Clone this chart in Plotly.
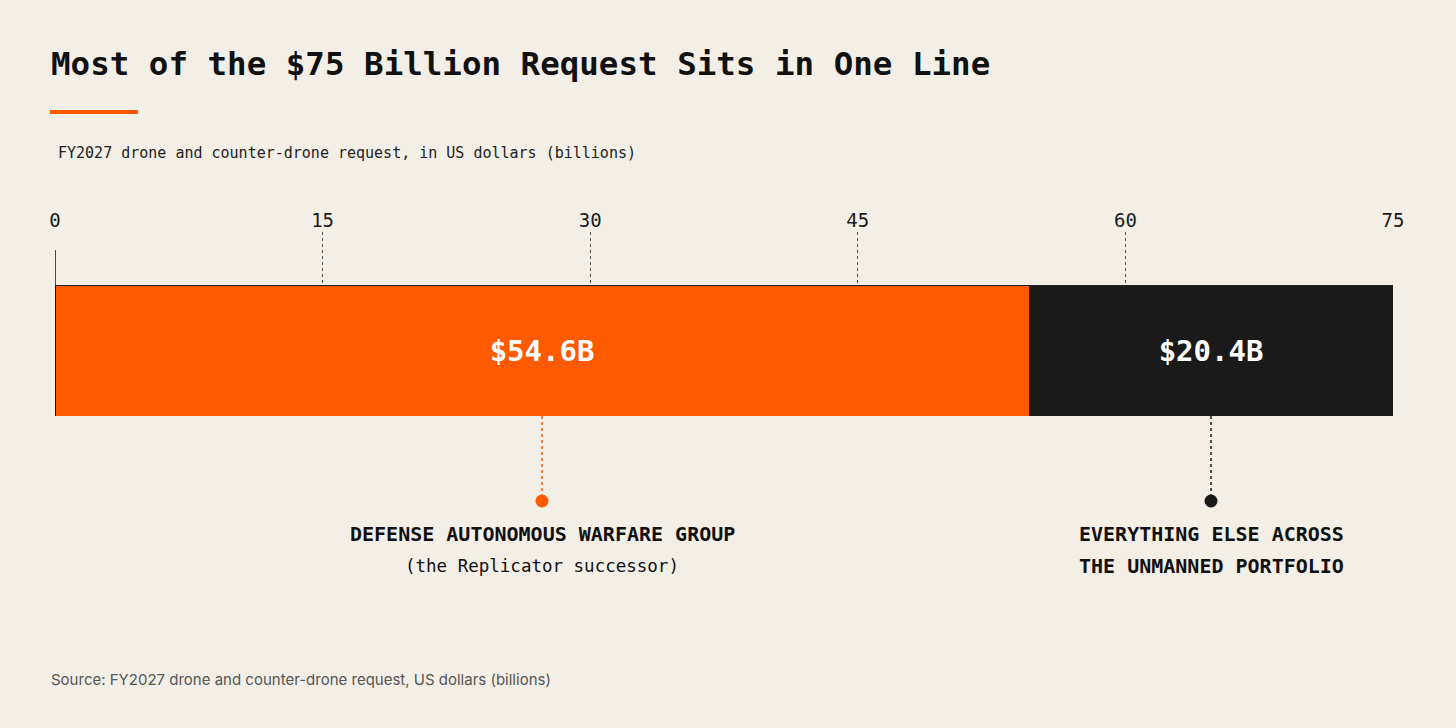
import plotly.graph_objects as go

# data
segments = ["DEFENSE AUTONOMOUS WARFARE GROUP", "EVERYTHING ELSE ACROSS THE UNMANNED PORTFOLIO"]
amounts = [54.6, 20.4]
value_labels = ["$54.6B", "$20.4B"]
label_line1 = ["DEFENSE AUTONOMOUS WARFARE GROUP", "EVERYTHING ELSE ACROSS"]
label_line2 = ["(the Replicator successor)", "THE UNMANNED PORTFOLIO"]
tick_vals = [0, 15, 30, 45, 60, 75]

ORANGE = "#FF5A00"
BLACK = "#1A1A1A"
BG = "#F3EFE7"
MONO = "DejaVu Sans Mono"
colors = [ORANGE, BLACK]

fig = go.Figure()

for name, amt, lab, col in zip(segments, amounts, value_labels, colors):
    fig.add_trace(go.Bar(
        x=[amt], y=[0], orientation="h", width=1, name=name,
        marker=dict(color=col, line=dict(color="#222222", width=1)),
        text=[lab], textposition="inside", insidetextanchor="middle",
        textfont=dict(family=MONO, size=29, color="white"),
        texttemplate="<b>%{text}</b>",
        hoverinfo="skip",
    ))

fig.update_layout(
    width=1456, height=728,
    paper_bgcolor=BG, plot_bgcolor=BG,
    margin=dict(l=55, r=63, t=232, b=312),
    barmode="stack", showlegend=False,
    font=dict(family=MONO, color="#1A1A1A"),
)

fig.update_xaxes(
    range=[0, 75], side="top", tickvals=tick_vals,
    showgrid=True, gridcolor="#555555", griddash="dot", gridwidth=1,
    zeroline=False, showline=False, ticks="",
    tickfont=dict(family=MONO, size=19, color="#1A1A1A"),
)
fig.update_yaxes(range=[-0.5, 0.905], visible=False, fixedrange=True)

# plot area: paper y 0 -> pixel 416, 1 -> pixel 232
def py(px):
    return (416 - px) / 184.0

def pxx(px):
    return (px - 55) / 1338.0

# left axis line at 0
fig.add_shape(type="line", xref="x", yref="paper", x0=0, x1=0, y0=0, y1=py(250),
              line=dict(color="#111111", width=1.5))

# title, accent rule, subtitle, source
fig.add_annotation(xref="paper", yref="paper", x=pxx(49), y=py(64), xanchor="left", yanchor="middle",
                   text="<b>Most of the $75 Billion Request Sits in One Line</b>", showarrow=False,
                   font=dict(family=MONO, size=32.5, color="#111111"))
fig.add_shape(type="line", xref="paper", yref="paper", x0=pxx(50), x1=pxx(138), y0=py(112), y1=py(112),
              line=dict(color=ORANGE, width=4))
fig.add_annotation(xref="paper", yref="paper", x=pxx(56), y=py(153), xanchor="left", yanchor="middle",
                   text="FY2027 drone and counter-drone request, in US dollars (billions)", showarrow=False,
                   font=dict(family=MONO, size=15, color="#222222"))
fig.add_annotation(xref="paper", yref="paper", x=pxx(49), y=py(679), xanchor="left", yanchor="middle",
                   text="Source: FY2027 drone and counter-drone request, US dollars (billions)", showarrow=False,
                   font=dict(family="Inter", size=15, color="#555555"))

# callouts below each segment
start = 0
for amt, col, l1, l2, i in zip(amounts, colors, label_line1, label_line2, range(2)):
    mid = start + amt / 2
    start += amt
    fig.add_shape(type="line", xref="x", yref="paper", x0=mid, x1=mid, y0=0, y1=py(495),
                  line=dict(color=col, width=1.5, dash="dot"))
    fig.add_shape(type="circle", xref="x", yref="paper", xsizemode="pixel", ysizemode="pixel",
                  xanchor=mid, yanchor=py(501), x0=-6.5, x1=6.5, y0=-6.5, y1=6.5,
                  fillcolor=col, line=dict(width=0))
    fig.add_annotation(xref="x", yref="paper", x=mid, y=py(534), xanchor="center", yanchor="middle",
                       text="<b>" + l1 + "</b>", showarrow=False,
                       font=dict(family=MONO, size=20, color="#111111"))
    l2_text = l2 if i == 0 else "<b>" + l2 + "</b>"
    fig.add_annotation(xref="x", yref="paper", x=mid, y=py(566), xanchor="center", yanchor="middle",
                       text=l2_text, showarrow=False,
                       font=dict(family=MONO, size=17.5 if i == 0 else 20, color="#111111"))

# drop the default page margin so the chart fills the window
fig.write_html("out.html", config={"displayModeBar": False},
               post_script="document.body.style.margin='0';")
